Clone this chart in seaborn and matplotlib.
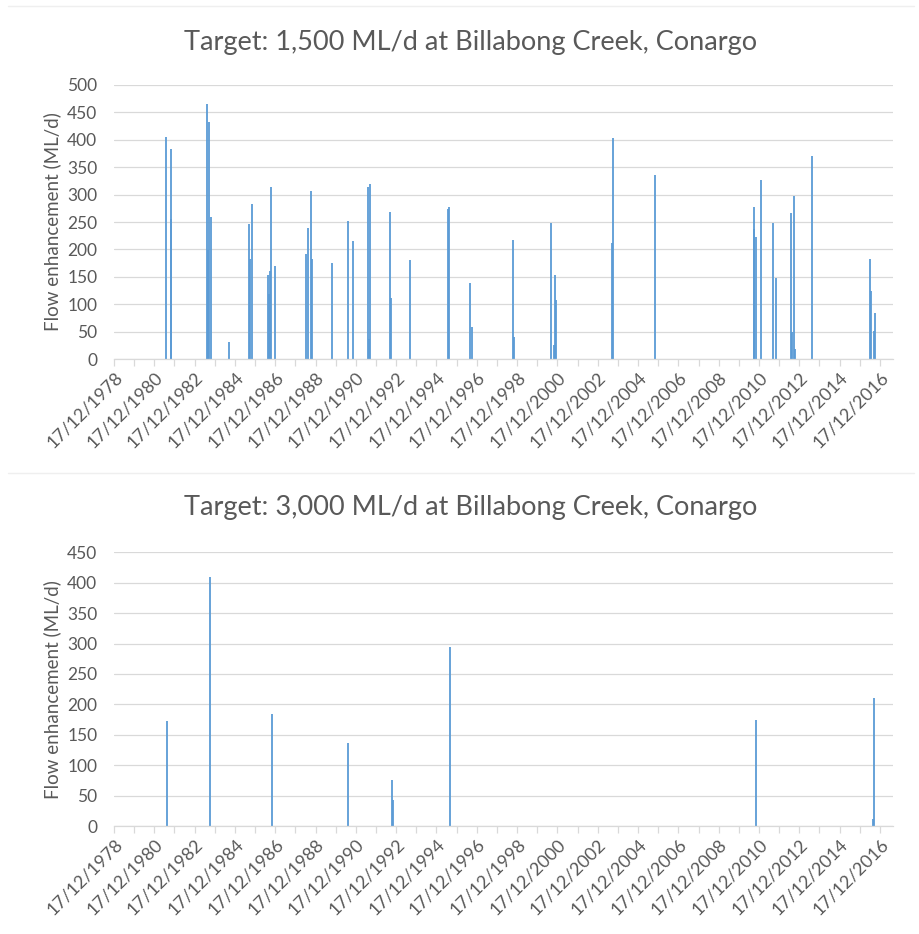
import pandas as pd
import numpy as np
import matplotlib
matplotlib.use("Agg")
import matplotlib.pyplot as plt
import matplotlib.dates as mdates
from matplotlib.lines import Line2D
import seaborn as sns

# ================================
# DATA
# ================================

dates_1500 = [
    "1981-07-22", "1981-10-11", "1981-10-22", "1983-08-05", "1983-08-23",
    "1983-09-10", "1983-10-16", "1984-09-02", "1985-09-05", "1985-09-23",
    "1985-10-19", "1986-08-05", "1986-08-28", "1986-09-15", "1986-10-03",
    "1986-12-15", "1988-06-30", "1988-07-30", "1988-09-23", "1988-10-11",
    "1989-10-19", "1990-07-25", "1990-10-29", "1991-08-03", "1991-08-21",
    "1991-09-08", "1992-08-31", "1992-09-12", "1993-08-16", "1995-07-12",
    "1995-07-23", "1996-08-15", "1996-09-26", "1998-10-09", "1998-10-27",
    "2000-08-28", "2000-10-16", "2000-11-03", "2000-11-27", "2003-08-26",
    "2003-09-13", "2005-10-15", "2010-09-09", "2010-09-22", "2010-10-15",
    "2011-01-14", "2011-08-25", "2011-10-18", "2012-07-23", "2012-08-15",
    "2012-09-03", "2012-09-21", "2013-08-01", "2016-06-26", "2016-07-14",
    "2016-08-24", "2016-09-11",
]
flow_1500 = [
    405, 255, 383, 466, 199,
    432, 260, 31, 246, 183,
    282, 153, 118, 160, 314,
    170, 191, 239, 306, 183,
    176, 252, 215, 314, 37,
    320, 269, 112, 180, 274,
    277, 139, 58, 217, 40,
    249, 25, 153, 108, 212,
    404, 335, 238, 277, 222,
    326, 249, 148, 266, 50,
    297, 18, 370, 182, 125,
    52, 84,
]

dates_3000 = [
    "1981-08-09", "1983-09-28", "1986-10-16", "1990-07-25", "1992-10-01",
    "1992-10-19", "1995-08-10", "2010-10-28", "2016-08-18", "2016-09-05",
]
flow_3000 = [172, 410, 184, 137, 76, 42, 294, 175, 12, 210]

titles = [
    "Target: 1,500 ML/d at Billabong Creek, Conargo",
    "Target: 3,000 ML/d at Billabong Creek, Conargo",
]
y_max = [500, 450]
y_label = "Flow enhancement (ML/d)"
tick_years = list(range(1978, 2017))

# ================================
# STYLE
# ================================

sns.set_theme(style="white")
plt.rcParams["font.family"] = ["Lato", "DejaVu Sans"]

BAR = "#5B9BD5"
GRID = "#D9D9D9"
TXT = "#595959"

fig = plt.figure(figsize=(9.19, 9.34), dpi=100)

panels = [
    (pd.to_datetime(dates_1500), flow_1500, [0.124, 0.6156, 0.8477, 0.2934], 0.955),
    (pd.to_datetime(dates_3000), flow_3000, [0.124, 0.1156, 0.8477, 0.2931], 0.457),
]

x_start = pd.Timestamp("1978-12-17")
x_end = pd.Timestamp("2017-08-10")
year_ticks = [pd.Timestamp(f"{y}-12-17") for y in tick_years]
label_ticks = year_ticks[::2]

for i, (d, v, rect, title_y) in enumerate(panels):
    ax = fig.add_axes(rect)
    df = pd.DataFrame({"date": d, "flow": v})
    ax.vlines(df["date"], 0, df["flow"], color=BAR, linewidth=1.3)

    ax.set_xlim(x_start, x_end)
    ax.set_ylim(0, y_max[i])
    ax.set_yticks(np.arange(0, y_max[i] + 1, 50))
    ax.yaxis.grid(True, color=GRID, linewidth=0.9)
    ax.set_axisbelow(True)

    ax.set_xticks(label_ticks)
    ax.set_xticks(year_ticks, minor=True)
    ax.xaxis.set_major_formatter(mdates.DateFormatter("%d/%m/%Y"))
    ax.tick_params(axis="x", which="both", direction="out", length=5,
                   color=GRID, width=0.9, bottom=True)
    ax.tick_params(axis="x", which="major", labelsize=13, labelcolor=TXT, pad=2)
    ax.tick_params(axis="y", length=0, labelsize=12.5, labelcolor=TXT, pad=12)
    for lab in ax.get_xticklabels():
        lab.set_rotation(45)
        lab.set_ha("right")
        lab.set_rotation_mode("anchor")

    sns.despine(ax=ax, left=True)
    ax.spines["bottom"].set_color(GRID)
    ax.spines["bottom"].set_linewidth(0.9)

    ax.set_ylabel(y_label, fontsize=13.5, color=TXT, labelpad=4)
    fig.text(0.512, title_y, titles[i], ha="center", va="center",
             fontsize=19.5, color=TXT)

# chart borders
for yb in (0.9936, 0.4936):
    fig.add_artist(Line2D([0.009, 0.995], [yb, yb], color="#EFEFEF", linewidth=1))

fig.savefig("out.png", dpi=100)
